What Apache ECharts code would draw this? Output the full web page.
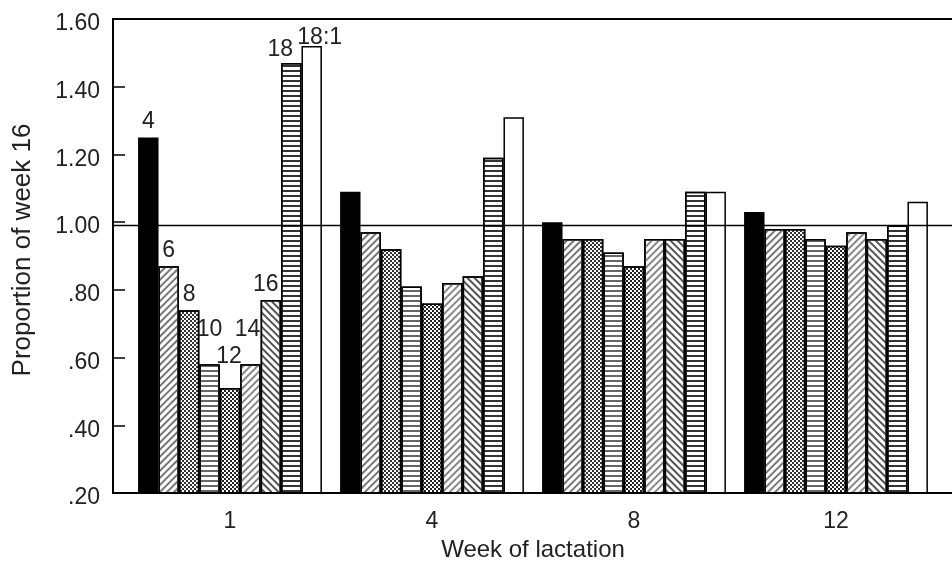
<!DOCTYPE html>
<html>
<head>
<meta charset="utf-8">
<script src="https://cdn.jsdelivr.net/npm/echarts@6/dist/echarts.min.js"></script>
<style>
html, body { margin: 0; padding: 0; background: #fff; }
#main { width: 952px; height: 561px; }
</style>
</head>
<body>
<div id="main"></div>
<script>
// week of lactation (x categories)
var weeks = ['1', '4', '8', '12'];
// one series per group, labelled on the first week
var seriesNames = ['4', '6', '8', '10', '12', '14', '16', '18', '18:1'];

// proportion of week 16
var s4 = [1.25, 1.09, 1.00, 1.03];
var s6 = [0.87, 0.97, 0.95, 0.98];
var s8 = [0.74, 0.92, 0.95, 0.98];
var s10 = [0.58, 0.81, 0.91, 0.95];
var s12 = [0.51, 0.76, 0.87, 0.93];
var s14 = [0.58, 0.82, 0.95, 0.97];
var s16 = [0.77, 0.84, 0.95, 0.95];
var s18 = [1.47, 1.19, 1.09, 0.99];
var s18_1 = [1.52, 1.31, 1.09, 1.06];

// reference line
var refValue = 0.99;

// y axis
var yTicks = [0.2, 0.4, 0.6, 0.8, 1.0, 1.2, 1.4, 1.6];
var yTickLabels = ['.20', '.40', '.60', '.80', '1.00', '1.20', '1.40', '1.60'];

var allSeries = [s4, s6, s8, s10, s12, s14, s16, s18, s18_1];

var FONT = 'Liberation Sans';
var gridLeft = 129, axisOffset = 16;

//填充样式
function lines(rot, col, on, off) {
	return { symbol: 'rect', symbolSize: 1, color: col, dashArrayX: [[1, 0]], dashArrayY: [on, off], rotation: rot };
}
function checker(col) {
	return { symbol: 'rect', symbolSize: 1, color: col, dashArrayX: [[2, 2], [0, 2, 2, 0]], dashArrayY: [2, 0] };
}
var fills = ['#000', '#fff', '#fff', '#fff', '#fff', '#fff', '#fff', '#fff', '#fff'];
var decals = [
	null,
	lines(-Math.PI / 4, '#777', 1.5, 2.5),
	checker('#333'),
	lines(0, '#666', 2, 2.5),
	checker('#222'),
	lines(-Math.PI / 4, '#888', 1.5, 2.5),
	lines(Math.PI / 4, '#555', 1.5, 2.5),
	lines(0, '#333', 1.5, 2.5),
	null
];
// label nudges for group 1
var labelOffsets = [[0, 0], [0, 0], [0, 0], [0, -19], [-1, -16], [-3, -19], [-5, 0], [-11, 2], [8, 7]];

var series = allSeries.map(function(vals, i) {
	return {
		name: seriesNames[i],
		type: 'bar',
		barGap: '0%',
		barCategoryGap: '9%',
		animation: false,
		itemStyle: {
			color: fills[i],
			borderColor: '#000',
			borderWidth: 1.5,
			decal: decals[i] || undefined
		},
		emphasis: { disabled: true },
		data: vals.map(function(v, j) {
			var d = { value: v };
			if (j === 0) {
				d.label = {
					show: true,
					position: 'top',
					distance: 4,
					offset: labelOffsets[i],
					formatter: '{a}',
					color: '#222',
					fontFamily: FONT,
					fontSize: 23
				};
			}
			return d;
		})
	};
});

var chart = echarts.init(document.getElementById('main'));
chart.setOption({
	backgroundColor: '#fff',
	animation: false,
	grid: { left: gridLeft, right: 15, top: 19, bottom: 68, outerBoundsMode: 'none' },
	xAxis: {
		type: 'category',
		data: weeks,
		axisLine: { show: false },
		axisTick: { show: false },
		axisLabel: { color: '#222', fontFamily: FONT, fontSize: 23, margin: 17 },
		name: 'Week of lactation',
		nameLocation: 'middle',
		nameGap: 36,
		nameTextStyle: { color: '#222', fontFamily: FONT, fontSize: 24 }
	},
	yAxis: {
		type: 'value',
		min: yTicks[0],
		max: yTicks[yTicks.length - 1],
		interval: 0.2,
		offset: axisOffset,
		splitLine: { show: false },
		axisLine: { show: true, lineStyle: { color: '#000', width: 2 } },
		axisTick: { show: true, inside: true, length: 12, lineStyle: { color: '#000', width: 1.5 } },
		axisLabel: {
			color: '#222', fontFamily: FONT, fontSize: 23, margin: 13,
			verticalAlign: 'top', lineHeight: 10,
			formatter: function(v) {
				var k = yTicks.findIndex(function(t) { return Math.abs(t - v) < 1e-6; });
				return k >= 0 ? yTickLabels[k] : '';
			}
		},
		name: 'Proportion of week 16',
		nameLocation: 'middle',
		nameGap: 77,
		nameTextStyle: { color: '#222', fontFamily: FONT, fontSize: 26, padding: [0, 0, 0, 12] }
	},
	series: series
});

// 边框和参考线
var axisX = gridLeft - axisOffset;
var yTop = chart.convertToPixel({ yAxisIndex: 0 }, yTicks[yTicks.length - 1]);
var yBot = chart.convertToPixel({ yAxisIndex: 0 }, yTicks[0]);
var yRef = chart.convertToPixel({ yAxisIndex: 0 }, refValue);
chart.setOption({
	graphic: [{
		type: 'rect',
		z: 100,
		shape: { x: axisX, y: yTop, width: 900, height: yBot - yTop },
		style: { fill: 'none', stroke: '#000', lineWidth: 2 }
	}, {
		type: 'line',
		z: 100,
		shape: { x1: axisX, y1: yRef, x2: 960, y2: yRef },
		style: { stroke: '#000', lineWidth: 1.5 }
	}]
});
</script>
</body>
</html>
